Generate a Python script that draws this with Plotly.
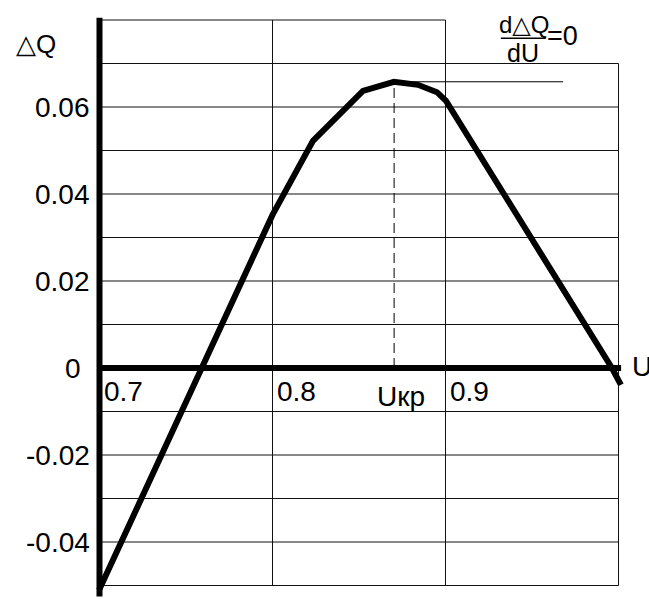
import plotly.graph_objects as go

# curve dQ(U)
u = [0.6997, 0.8, 0.8234, 0.8523, 0.8702, 0.8841, 0.8951, 0.9003, 0.9962, 1.0014]
dq = [-0.0511, 0.0352, 0.0522, 0.0637, 0.0658, 0.0651, 0.0634, 0.0614, 0.0, -0.0039]

# critical point
u_kr = 0.8703
dq_max = 0.0658
tangent_end = 0.968

# grid
grid_h = [-0.05, -0.04, -0.03, -0.02, -0.01, 0.0, 0.01, 0.02, 0.03, 0.04, 0.05, 0.06, 0.07]
grid_v = [0.8, 0.9]
y_ticks = [0.06, 0.04, 0.02, 0.0, -0.02, -0.04]
y_tick_text = ["0.06", "0.04", "0.02", "0", "-0.02", "-0.04"]
x_ticks = [0.7, 0.8, 0.9]
x_tick_text = ["0.7", "0.8", "0.9"]

FONT = "Arial, Liberation Sans, DejaVu Sans"

fig = go.Figure()

# thin grid lines
gx, gy = [], []
for h in grid_h:
    gx += [0.7, 1.0, None]
    gy += [h, h, None]
# top border only up to 0.9
gx += [0.7, 0.9, None]
gy += [0.08, 0.08, None]
for v in grid_v:
    gx += [v, v, None]
    gy += [-0.05, 0.08, None]
gx += [1.0, 1.0, None]
gy += [-0.05, 0.07, None]
fig.add_trace(go.Scatter(x=gx, y=gy, mode="lines",
                         line=dict(color="#111", width=1), hoverinfo="skip"))

# dashed vertical at U_kr and tangent line
fig.add_trace(go.Scatter(x=[u_kr, u_kr], y=[0, dq_max], mode="lines",
                         line=dict(color="black", width=1, dash="10px,5px")))
fig.add_trace(go.Scatter(x=[u_kr, tangent_end], y=[dq_max, dq_max], mode="lines",
                         line=dict(color="black", width=1)))

# thick axes
fig.add_trace(go.Scatter(x=[0.7, 0.7], y=[-0.0525, 0.0805], mode="lines",
                         line=dict(color="black", width=6)))
fig.add_trace(go.Scatter(x=[0.7, 1.0015], y=[0, 0], mode="lines",
                         line=dict(color="black", width=6)))

# curve
fig.add_trace(go.Scatter(x=u, y=dq, mode="lines",
                         line=dict(color="black", width=6)))

# y tick labels
for val, txt in zip(y_ticks, y_tick_text):
    fig.add_annotation(x=0.6905 if txt == "0" else 0.6957, y=val, text=txt,
                       xanchor="right", yanchor="middle", showarrow=False,
                       font=dict(family=FONT, size=28, color="black"))

# x tick labels
for val, txt in zip(x_ticks, x_tick_text):
    fig.add_annotation(x=val + 0.0015, y=-0.0055, text=txt,
                       xanchor="left", yanchor="middle", showarrow=False,
                       font=dict(family=FONT, size=28, color="black"))

fig.add_annotation(x=0.8895, y=-0.0065, text="Uкр", xanchor="right", yanchor="middle",
                   showarrow=False, font=dict(family=FONT, size=28, color="black"))
fig.add_annotation(x=1.0065, y=0.0003, text="U", xanchor="left", yanchor="middle",
                   showarrow=False, font=dict(family=FONT, size=28, color="black"))
fig.add_annotation(x=0.6506, y=0.0745, text="△Q", xanchor="left", yanchor="middle",
                   showarrow=False, font=dict(family=FONT, size=26, color="black"))

# dΔQ/dU = 0
fig.add_annotation(x=0.9452, y=0.0789, text="d△Q", xanchor="center", yanchor="middle",
                   showarrow=False, font=dict(family=FONT, size=24, color="black"))
fig.add_annotation(x=0.9450, y=0.0725, text="dU", xanchor="center", yanchor="middle",
                   showarrow=False, font=dict(family=FONT, size=25, color="black"))
fig.add_trace(go.Scatter(x=[0.932, 0.958], y=[0.0758, 0.0758], mode="lines",
                         line=dict(color="black", width=1.5)))
fig.add_annotation(x=0.9575, y=0.0764, text="=0", xanchor="left", yanchor="middle",
                   showarrow=False, font=dict(family=FONT, size=27, color="black"))

fig.update_layout(
    width=649, height=599,
    margin=dict(l=0, r=0, t=0, b=0),
    paper_bgcolor="white", plot_bgcolor="white",
    showlegend=False,
    xaxis=dict(range=[0.64249, 1.01763], visible=False, showgrid=False, zeroline=False),
    yaxis=dict(range=[-0.053103, 0.084598], visible=False, showgrid=False, zeroline=False),
)

# drop the default body margin so the figure fills the window exactly
fig.write_html("out.html", config={"displayModeBar": False},
               post_script="document.body.style.margin='0';document.body.style.overflow='hidden';")
